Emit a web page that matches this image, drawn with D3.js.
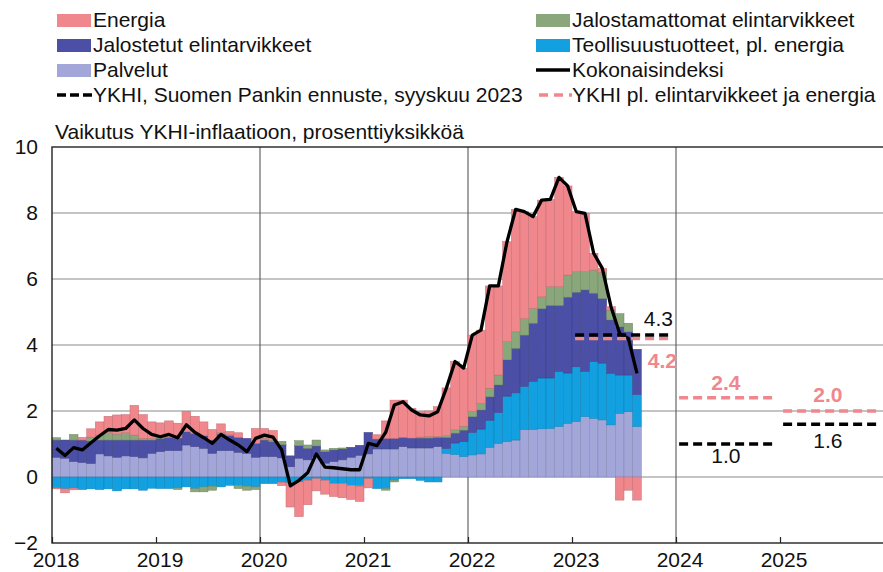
<!DOCTYPE html>
<html>
<head>
<meta charset="utf-8">
<script src="https://cdn.jsdelivr.net/npm/d3@7"></script>
<style>
  body { margin: 0; background: #fff; }
  text { font-family: "Liberation Sans", Arial, sans-serif; fill: #111; }
</style>
</head>
<body>
<svg id="chart" width="883" height="572"></svg>
<script>
// monthly contributions, Jan 2018 - Aug 2023 (percentage points)
const palvelut = [
  0.60, 0.57, 0.47, 0.44, 0.41, 0.70, 0.64, 0.60, 0.64, 0.62, 0.58, 0.72,
  0.77, 0.80, 0.80, 0.97, 0.92, 0.87, 0.72, 0.80, 0.80, 0.75, 0.72, 0.60,
  0.62, 0.62, 0.58, 0.31, 0.57, 0.52, 0.62, 0.42, 0.47, 0.52, 0.60, 0.66,
  0.70, 0.85, 0.85, 0.85, 0.92, 0.88, 0.88, 0.88, 0.92, 0.72, 0.68, 0.62,
  0.67, 0.70, 0.90, 1.02, 1.07, 1.12, 1.44, 1.44, 1.46, 1.47, 1.53, 1.63,
  1.68, 1.83, 1.78, 1.73, 1.58, 1.93, 1.98, 1.53
];
const teollisuus = [
  -0.33, -0.36, -0.34, -0.38, -0.36, -0.38, -0.36, -0.42, -0.36, -0.36, -0.40, -0.34,
  -0.35, -0.35, -0.33, -0.30, -0.35, -0.30, -0.28, -0.30, -0.25, -0.25, -0.28, -0.30,
  -0.20, -0.20, -0.16, -0.18, -0.15, -0.10, -0.05, -0.10, -0.20, -0.20, -0.25, -0.25,
  -0.05, -0.35, -0.35, -0.10, -0.05, -0.05, -0.10, -0.15, -0.15, 0.15, 0.35, 0.45,
  0.68, 0.75, 0.82, 0.93, 1.38, 1.43, 1.31, 1.46, 1.54, 1.53, 1.67, 1.52,
  1.66, 1.37, 1.72, 1.72, 1.56, 1.16, 1.11, 0.97
];
const jalostetut = [
  0.52, 0.55, 0.65, 0.68, 0.68, 0.42, 0.48, 0.52, 0.48, 0.50, 0.54, 0.40,
  0.40, 0.40, 0.38, 0.40, 0.40, 0.38, 0.40, 0.50, 0.45, 0.45, 0.45, 0.42,
  0.50, 0.45, 0.40, 0.33, 0.38, 0.35, 0.32, 0.35, 0.35, 0.33, 0.30, 0.30,
  0.65, 0.30, 0.32, 0.32, 0.28, 0.30, 0.30, 0.30, 0.28, 0.33, 0.30, 0.35,
  0.48, 0.58, 0.71, 0.84, 1.10, 1.35, 1.55, 1.76, 2.10, 2.20, 2.00, 2.30,
  2.26, 2.47, 2.07, 1.96, 1.62, 1.46, 1.31, 1.37
];
const jalostamattomat = [
  0.07, 0.00, 0.17, 0.00, 0.12, 0.15, 0.22, 0.18, 0.22, 0.15, 0.05, 0.05,
  0.05, 0.00, -0.05, 0.00, -0.10, -0.15, -0.12, 0.05, 0.03, -0.10, -0.12, -0.08,
  0.05, 0.05, 0.10, 0.00, 0.15, 0.10, 0.18, 0.05, 0.05, 0.03, 0.00, -0.03,
  0.00, 0.00, -0.05, -0.05, 0.00, 0.00, 0.03, 0.05, 0.03, 0.05, 0.10, 0.12,
  0.15, 0.20, 0.26, 0.30, 0.55, 0.50, 0.50, 0.45, 0.36, 0.57, 0.57, 0.67,
  0.62, 0.55, 0.70, 0.79, 0.30, 0.40, 0.26, 0.00
];
const energia = [
  -0.03, -0.12, -0.05, 0.08, 0.25, 0.40, 0.50, 0.58, 0.55, 0.90, 0.72, 0.50,
  0.42, 0.50, 0.45, 0.62, 0.52, 0.42, 0.32, 0.26, 0.10, 0.14, 0.00, 0.45,
  0.30, 0.29, -0.10, -0.73, -1.05, -0.74, -0.37, -0.42, -0.39, -0.43, -0.43, -0.46,
  -0.28, 0.13, 0.53, 1.16, 1.13, 0.90, 0.77, 0.77, 0.90, 1.45, 2.07, 1.76,
  2.32, 2.22, 3.10, 2.70, 3.03, 3.71, 3.24, 2.78, 2.93, 2.64, 3.31, 2.70,
  1.82, 1.77, 0.51, 0.12, 0.10, -0.70, -0.40, -0.70
];
const kokonaisindeksi = [
  0.87, 0.65, 0.89, 0.82, 1.04, 1.25, 1.44, 1.42, 1.47, 1.73, 1.47, 1.29,
  1.22, 1.29, 1.19, 1.58, 1.35, 1.19, 1.02, 1.29, 1.12, 0.97, 0.77, 1.17,
  1.27, 1.21, 0.82, -0.27, -0.10, 0.13, 0.70, 0.30, 0.28, 0.25, 0.22, 0.22,
  1.02, 0.95, 1.35, 2.18, 2.28, 2.03, 1.88, 1.85, 1.98, 2.69, 3.50, 3.30,
  4.30, 4.45, 5.79, 5.79, 7.13, 8.11, 8.04, 7.89, 8.39, 8.41, 9.08, 8.82,
  8.04, 7.99, 6.78, 6.32, 5.16, 4.35, 4.20, 3.14
];

// Bank of Finland forecast, September 2023
const forecastYears = [2023, 2024, 2025];
const ykhiForecast = [4.3, 1.0, 1.6];
const coreForecast = [4.2, 2.4, 2.0];

const yTicks = [-2, 0, 2, 4, 6, 8, 10];
const xYears = [2018, 2019, 2020, 2021, 2022, 2023, 2024, 2025];
const gridYears = [2020, 2022, 2024];

const seriesKeys = ['Palvelut', 'Teollisuustuotteet, pl. energia', 'Jalostetut elintarvikkeet',
  'Jalostamattomat elintarvikkeet', 'Energia'];
const seriesValues = [palvelut, teollisuus, jalostetut, jalostamattomat, energia];
const seriesColors = ['#a3a6d8', '#12a0e0', '#4b4fa6', '#8aa77b', '#f0878d'];

const rows = palvelut.map((d, i) => {
  const r = { t: 2018 + i / 12 };
  seriesKeys.forEach((k, j) => r[k] = seriesValues[j][i]);
  return r;
});

const svg = d3.select('#chart');
const margin = { top: 147, right: -1, bottom: 29, left: 52 };
const width = 883 - margin.left - margin.right;
const height = 572 - margin.top - margin.bottom;

const x = d3.scaleLinear().domain([2018, 2026]).range([margin.left, margin.left + width]);
const y = d3.scaleLinear().domain([-2, 10]).range([margin.top + height, margin.top]);
const color = d3.scaleOrdinal().domain(seriesKeys).range(seriesColors);

// gridlines
svg.append('g')
  .selectAll('line').data(yTicks.filter(d => d > -2 && d < 10)).enter()
  .append('line')
  .attr('x1', x(2018)).attr('x2', x(2026))
  .attr('y1', d => y(d)).attr('y2', d => y(d))
  .style('stroke', '#8a8a8a').style('stroke-width', 1.2);

svg.append('g')
  .selectAll('line').data(gridYears).enter()
  .append('line')
  .attr('x1', d => x(d)).attr('x2', d => x(d))
  .attr('y1', y(10)).attr('y2', y(-2))
  .style('stroke', '#666').style('stroke-width', 1.2);

// stacked bars
const stack = d3.stack().keys(seriesKeys).offset(d3.stackOffsetDiverging);
const stacked = stack(rows);

svg.append('g')
  .selectAll('g').data(stacked).enter()
  .append('g')
  .attr('fill', d => color(d.key))
  .attr('stroke', d => d3.color(color(d.key)).darker(0.6))
  .attr('stroke-width', 0.5)
  .selectAll('rect').data(d => d).enter()
  .append('rect')
  .attr('x', d => x(d.data.t))
  .attr('width', d => x(d.data.t + 1 / 12) - x(d.data.t))
  .attr('y', d => y(Math.max(d[0], d[1])))
  .attr('height', d => Math.abs(y(d[0]) - y(d[1])));

// headline index line
svg.append('path')
  .datum(kokonaisindeksi)
  .attr('d', d3.line()
    .x((d, i) => x(2018 + (i + 0.5) / 12))
    .y(d => y(d)))
  .style('fill', 'none')
  .style('stroke', '#000')
  .style('stroke-width', 3.3)
  .style('stroke-linejoin', 'round');

// forecast segments
const drawForecast = (vals, col) => {
  svg.append('g')
    .selectAll('line').data(forecastYears).enter()
    .append('line')
    .attr('x1', d => x(d + 0.03))
    .attr('x2', d => x(d + 0.97))
    .attr('y1', (d, i) => y(vals[i]))
    .attr('y2', (d, i) => y(vals[i]))
    .style('stroke', col)
    .style('stroke-width', 3.5)
    .style('stroke-dasharray', '9,5');
};
drawForecast(coreForecast, '#f0878d');
drawForecast(ykhiForecast, '#000');

// forecast value labels
const labelPos = [2023.83, 2024.48, 2025.46];
const ykhiDy = [-9, 19, 24];
const coreDy = [30, -8, -9];
svg.append('g')
  .selectAll('text').data(forecastYears).enter()
  .append('text')
  .attr('x', (d, i) => x(labelPos[i]))
  .attr('y', (d, i) => y(ykhiForecast[i]) + ykhiDy[i])
  .attr('text-anchor', 'middle')
  .style('font-size', '21px')
  .text((d, i) => ykhiForecast[i].toFixed(1));
svg.append('g')
  .selectAll('text').data(forecastYears).enter()
  .append('text')
  .attr('x', (d, i) => x(labelPos[i]) + (i === 0 ? 4 : 0))
  .attr('y', (d, i) => y(coreForecast[i]) + coreDy[i])
  .attr('text-anchor', 'middle')
  .style('font-size', '21px')
  .style('font-weight', 'bold')
  .style('fill', '#f0878d')
  .text((d, i) => coreForecast[i].toFixed(1));

// frame
svg.append('rect')
  .attr('x', x(2018)).attr('y', y(10))
  .attr('width', x(2026) - x(2018)).attr('height', y(-2) - y(10))
  .style('fill', 'none').style('stroke', '#222').style('stroke-width', 1.4);

// axes
const yAxis = svg.append('g')
  .attr('transform', `translate(${x(2018)},0)`)
  .call(d3.axisLeft(y).tickValues(yTicks).tickSize(0).tickPadding(14)
    .tickFormat(d => d < 0 ? '\u2212' + Math.abs(d) : d));
yAxis.select('.domain').remove();
yAxis.selectAll('text').style('font-size', '21px');

const xAxis = svg.append('g')
  .attr('transform', `translate(0,${y(-2)})`)
  .call(d3.axisTop(x).tickValues(xYears).tickSize(6).tickFormat(''));
xAxis.select('.domain').remove();
xAxis.selectAll('line').style('stroke', '#222').style('stroke-width', 1.2);

svg.append('g')
  .selectAll('text').data(xYears).enter()
  .append('text')
  .attr('x', d => x(d) + 4)
  .attr('y', y(-2) + 24)
  .attr('text-anchor', 'middle')
  .style('font-size', '21px')
  .text(d => d);

// title
svg.append('text')
  .attr('x', 55).attr('y', 139)
  .style('font-size', '21px')
  .text('Vaikutus YKHI-inflaatioon, prosenttiyksikköä');

// legend
const legendItems = [
  { label: 'Energia', type: 'box', color: '#f0878d', col: 0, row: 0 },
  { label: 'Jalostetut elintarvikkeet', type: 'box', color: '#4b4fa6', col: 0, row: 1 },
  { label: 'Palvelut', type: 'box', color: '#a3a6d8', col: 0, row: 2 },
  { label: 'YKHI, Suomen Pankin ennuste, syyskuu 2023', type: 'dash', color: '#000', col: 0, row: 3 },
  { label: 'Jalostamattomat elintarvikkeet', type: 'box', color: '#8aa77b', col: 1, row: 0 },
  { label: 'Teollisuustuotteet, pl. energia', type: 'box', color: '#12a0e0', col: 1, row: 1 },
  { label: 'Kokonaisindeksi', type: 'line', color: '#000', col: 1, row: 2 },
  { label: 'YKHI pl. elintarvikkeet ja energia', type: 'dash2', color: '#f0878d', col: 1, row: 3 }
];
const colX = [57, 536];
const rowY = [20, 45, 70, 95];

const legend = svg.append('g');
legendItems.forEach(d => {
  const lx = colX[d.col];
  const ly = rowY[d.row];
  if (d.type === 'box') {
    legend.append('rect')
      .attr('x', lx).attr('y', ly - 6).attr('width', 34).attr('height', 13)
      .style('fill', d.color);
  } else if (d.type === 'line') {
    legend.append('line')
      .attr('x1', lx).attr('x2', lx + 34).attr('y1', ly).attr('y2', ly)
      .style('stroke', d.color).style('stroke-width', 3.5);
  } else {
    legend.append('line')
      .attr('x1', lx + (d.type === 'dash2' ? 3 : 0)).attr('x2', lx + 36).attr('y1', ly).attr('y2', ly)
      .style('stroke', d.color).style('stroke-width', 3.5)
      .style('stroke-dasharray', d.type === 'dash2' ? '9,6' : '9,4');
  }
  legend.append('text')
    .attr('x', lx + 36).attr('y', ly + 7)
    .style('font-size', '21px')
    .text(d.label);
});
</script>
</body>
</html>
